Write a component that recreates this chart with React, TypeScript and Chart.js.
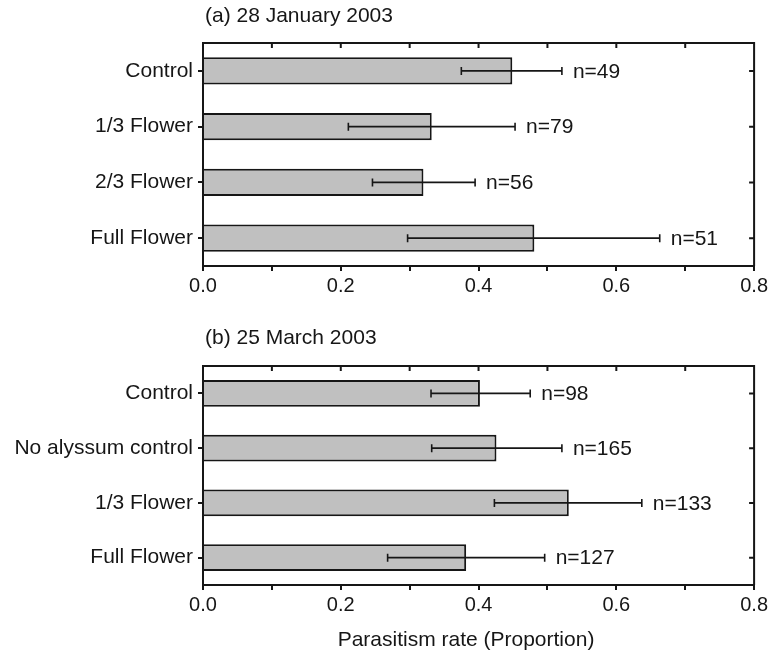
import React, { useEffect, useRef } from 'react';
import { Chart, registerables } from 'chart.js';

Chart.register(...registerables);

const FONT = "'Liberation Sans', Arial, Helvetica, sans-serif";
const INK = '#161616';
const BAR_FILL = '#c0c0c0';

// ---------- Data ----------
const categoriesA = ['Control', '1/3 Flower', '2/3 Flower', 'Full Flower'];
const meansA = [0.449, 0.332, 0.32, 0.481];
const lowsA = [0.375, 0.211, 0.246, 0.297];
const highsA = [0.521, 0.453, 0.395, 0.663];
const nLabelsA = ['n=49', 'n=79', 'n=56', 'n=51'];

const categoriesB = ['Control', 'No alyssum control', '1/3 Flower', 'Full Flower'];
const meansB = [0.402, 0.426, 0.531, 0.382];
const lowsB = [0.331, 0.332, 0.423, 0.268];
const highsB = [0.475, 0.521, 0.637, 0.496];
const nLabelsB = ['n=98', 'n=165', 'n=133', 'n=127'];

const xMin = 0;
const xMax = 0.8;
const xStep = 0.1;
const titleA = '(a) 28 January 2003';
const titleB = '(b) 25 March 2003';
const xAxisTitle = 'Parasitism rate (Proportion)';

// ---------- Plugin ----------
const extrasPlugin = {
  id: 'panelExtras',
  afterDatasetsDraw(chart: any, _args: any, opts: any) {
    const { ctx, chartArea: ca, scales } = chart;
    const x = scales.x;
    const y = scales.y;
    ctx.save();
    ctx.strokeStyle = INK;
    ctx.fillStyle = INK;

    // error bars + n labels
    ctx.lineWidth = 1.6;
    ctx.font = `21px ${FONT}`;
    ctx.textBaseline = 'middle';
    ctx.textAlign = 'left';
    (opts.lows as number[]).forEach((lo, i) => {
      const hi = opts.highs[i];
      const yc = y.getPixelForValue(i);
      const x1 = x.getPixelForValue(lo);
      const x2 = x.getPixelForValue(hi);
      ctx.beginPath();
      ctx.moveTo(x1, yc);
      ctx.lineTo(x2, yc);
      ctx.moveTo(x1, yc - 4);
      ctx.lineTo(x1, yc + 4);
      ctx.moveTo(x2, yc - 4);
      ctx.lineTo(x2, yc + 4);
      ctx.stroke();
      ctx.fillText(opts.nLabels[i], x2 + 11, yc + 1);
    });

    // frame: top and right
    ctx.lineWidth = 2;
    ctx.beginPath();
    ctx.moveTo(ca.left, ca.top);
    ctx.lineTo(ca.right, ca.top);
    ctx.lineTo(ca.right, ca.bottom);
    // inner ticks on top
    x.ticks.forEach((t: any) => {
      const px = x.getPixelForValue(t.value);
      ctx.moveTo(px, ca.top);
      ctx.lineTo(px, ca.top + 5);
    });
    // inner ticks on right
    y.ticks.forEach((_t: any, i: number) => {
      const py = y.getPixelForValue(i);
      ctx.moveTo(ca.right, py);
      ctx.lineTo(ca.right - 5, py);
    });
    ctx.stroke();

    // panel title
    ctx.font = `21px ${FONT}`;
    ctx.textAlign = 'left';
    ctx.textBaseline = 'middle';
    ctx.fillText(opts.title, ca.left + 2, opts.titleY);

    // x axis title
    if (opts.axisTitle) {
      ctx.font = `21px ${FONT}`;
      ctx.textAlign = 'center';
      ctx.fillText(opts.axisTitle, opts.axisTitleX, opts.axisTitleY);
    }
    ctx.restore();
  },
};

type PanelProps = {
  categories: string[];
  means: number[];
  lows: number[];
  highs: number[];
  nLabels: string[];
  title: string;
  titleY: number;
  width: number;
  height: number;
  padTop: number;
  xAxisHeight: number;
  axisTitle?: string;
  axisTitleX?: number;
  axisTitleY?: number;
  top: number;
};

function Panel(p: PanelProps) {
  const ref = useRef<HTMLCanvasElement | null>(null);
  useEffect(() => {
    if (!ref.current) return;
    const chart = new Chart(ref.current, {
      type: 'bar',
      data: {
        labels: p.categories,
        datasets: [
          {
            data: p.means,
            backgroundColor: BAR_FILL,
            borderColor: INK,
            borderWidth: 2,
            barPercentage: 0.49,
            categoryPercentage: 1,
          },
        ],
      },
      plugins: [extrasPlugin],
      options: {
        indexAxis: 'y',
        responsive: false,
        animation: false,
        events: [],
        layout: { padding: { top: p.padTop, left: 0, right: 0, bottom: 0 } },
        plugins: {
          legend: { display: false },
          tooltip: { enabled: false },
          title: { display: false },
          panelExtras: {
            lows: p.lows,
            highs: p.highs,
            nLabels: p.nLabels,
            title: p.title,
            titleY: p.titleY,
            axisTitle: p.axisTitle,
            axisTitleX: p.axisTitleX,
            axisTitleY: p.axisTitleY,
          },
        } as any,
        scales: {
          x: {
            type: 'linear',
            min: xMin,
            max: xMax,
            position: 'bottom',
            afterFit: (s: any) => {
              s.height = p.xAxisHeight;
            },
            ticks: {
              stepSize: xStep,
              autoSkip: false,
              maxRotation: 0,
              padding: 3,
              color: INK,
              font: { family: FONT, size: 20 },
              callback: (v: any) => {
                const k = Math.round(Number(v) * 10);
                return k % 2 === 0 ? (k / 10).toFixed(1) : '';
              },
            },
            grid: {
              drawOnChartArea: false,
              drawTicks: true,
              tickLength: 5,
              color: INK,
              lineWidth: 2,
            },
            border: { display: true, color: INK, width: 2 },
          },
          y: {
            type: 'category',
            position: 'left',
            offset: true,
            afterFit: (s: any) => {
              s.width = 203;
            },
            ticks: {
              padding: 5,
              color: INK,
              font: { family: FONT, size: 21 },
              autoSkip: false,
            },
            grid: {
              offset: false,
              drawOnChartArea: false,
              drawTicks: true,
              tickLength: 5,
              color: INK,
              lineWidth: 2,
            },
            border: { display: true, color: INK, width: 2 },
          },
        },
      } as any,
    });
    return () => chart.destroy();
  }, []);
  return (
    <canvas
      ref={ref}
      width={p.width}
      height={p.height}
      style={{ position: 'absolute', left: 0, top: p.top, display: 'block' }}
    />
  );
}

export default function App() {
  return (
    <div
      style={{
        position: 'absolute',
        left: 0,
        top: 0,
        width: 771,
        height: 654,
        background: '#ffffff',
        overflow: 'hidden',
      }}
    >
      <Panel
        categories={categoriesA}
        means={meansA}
        lows={lowsA}
        highs={highsA}
        nLabels={nLabelsA}
        title={titleA}
        titleY={16}
        width={771}
        height={300}
        padTop={43}
        xAxisHeight={34}
        top={0}
      />
      <Panel
        categories={categoriesB}
        means={meansB}
        lows={lowsB}
        highs={highsB}
        nLabels={nLabelsB}
        title={titleB}
        titleY={38}
        width={771}
        height={354}
        padTop={66}
        xAxisHeight={69}
        axisTitle={xAxisTitle}
        axisTitleX={466}
        axisTitleY={340}
        top={300}
      />
    </div>
  );
}
